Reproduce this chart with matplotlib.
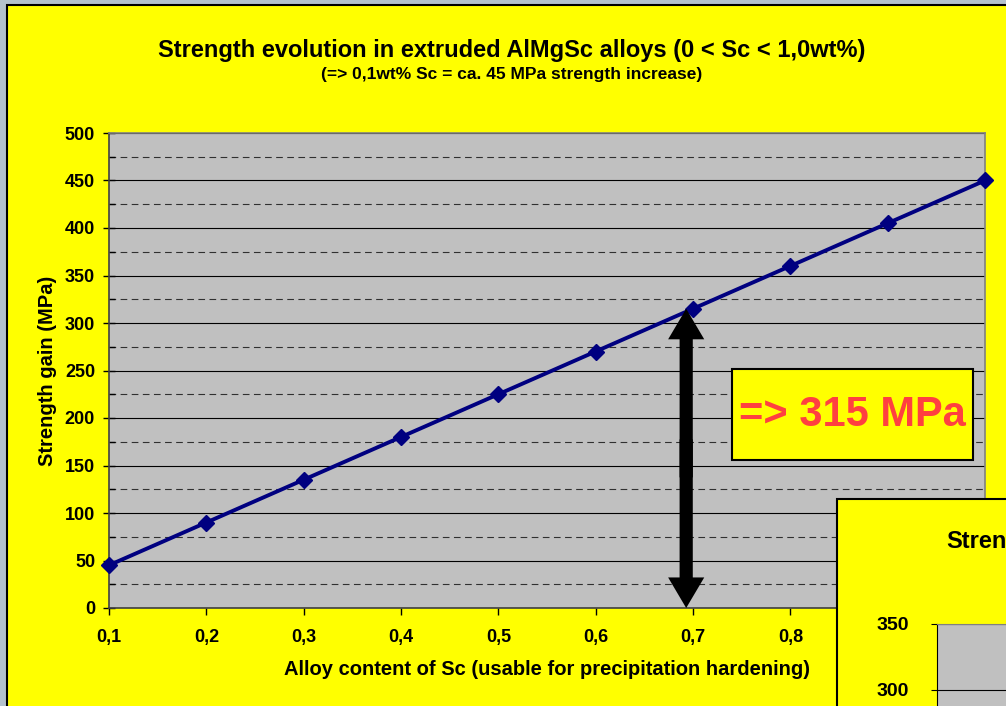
import matplotlib
matplotlib.use("Agg")
import matplotlib.pyplot as plt
from matplotlib.patches import Rectangle, FancyArrowPatch
from matplotlib.ticker import MultipleLocator

plt.rcParams['font.family'] = ['Liberation Sans', 'DejaVu Sans']
plt.rcParams['font.weight'] = 'bold'

# ---- data ----
sc_content = [0.1, 0.2, 0.3, 0.4, 0.5, 0.6, 0.7, 0.8, 0.9, 1.0]
strength_gain = [45, 90, 135, 180, 225, 270, 315, 360, 405, 450]
x_tick_labels = ['0,1', '0,2', '0,3', '0,4', '0,5', '0,6', '0,7', '0,8', '0,9', '1,0']
hidden_labels = ['0,9', '1,0']  # covered by the overlapping second chart
arrow_x = 0.693
arrow_value = 315
box_label = '=> 315 MPa'
title = 'Strength evolution in extruded AlMgSc alloys (0 < Sc < 1,0wt%)'
subtitle = '(=> 0,1wt% Sc = ca. 45 MPa strength increase)'
xlabel = 'Alloy content of Sc (usable for precipitation hardening)'
ylabel = 'Strength gain (MPa)'
second_title = 'Stren'
second_ticks = [300, 350]

W, H = 1006, 706
fig = plt.figure(figsize=(W / 100, H / 100), dpi=100)
fig.patch.set_facecolor('#b4c2cc')

def fx(px):
    return px / W

def fy(py):
    return 1 - py / H

YELLOW = '#ffff00'
GREY = '#c0c0c0'

# main chart background
bg = Rectangle((fx(7), fy(720)), fx(1030 - 7), (720 - 5) / H, transform=fig.transFigure,
               facecolor=YELLOW, edgecolor='black', lw=1.5, zorder=-5)
fig.patches.append(bg)

# main axes
L, R, T, B = 109, 985, 133, 608
ax = fig.add_axes([fx(L), fy(B), (R - L) / W, (B - T) / H])
ax.set_facecolor(GREY)
ax.set_xlim(0.1, 1.0)
ax.set_ylim(0, 500)
ax.yaxis.set_major_locator(MultipleLocator(50))
ax.yaxis.set_minor_locator(MultipleLocator(25))
ax.set_xticks(sc_content)
ax.set_xticklabels(x_tick_labels)
for s in ['top', 'right']:
    ax.spines[s].set_color('#808080')
    ax.spines[s].set_linewidth(1.2)
ax.spines['left'].set_color('#404040')
ax.spines['bottom'].set_color('#404040')
ax.spines['left'].set_linewidth(1.2)
ax.spines['bottom'].set_linewidth(1.2)
ax.grid(axis='y', which='major', color='black', lw=0.8, ls='-')
ax.grid(axis='y', which='minor', color='#303030', lw=0.8, ls=(0, (6, 4)))
ax.set_axisbelow(True)
ax.tick_params(axis='y', which='major', direction='inout', length=8, width=1,
               labelsize=13, pad=6)
ax.tick_params(axis='y', which='minor', direction='in', length=4, width=1)
ax.tick_params(axis='x', which='major', direction='out', length=5, width=1,
               labelsize=13, pad=10)
for lab in ax.get_xticklabels() + ax.get_yticklabels():
    lab.set_fontweight('bold')
for lab in ax.get_xticklabels():
    if lab.get_text() in hidden_labels:
        lab.set_visible(False)

ax.plot(sc_content, strength_gain, color='#000080', lw=2.8, marker='D',
        markersize=8.5, markerfacecolor='#000080', markeredgecolor='#000080',
        clip_on=False, zorder=5)

ax.set_xlabel(xlabel, fontsize=14.5, fontweight='bold', labelpad=10)
ax.set_ylabel(ylabel, fontsize=14.5, fontweight='bold', labelpad=6)

# double arrow (two overlapping single-headed arrows)
mid = arrow_value / 2
for start, end in ((mid - 20, arrow_value), (mid + 20, 0)):
    arr = FancyArrowPatch((arrow_x, start), (arrow_x, end),
                          arrowstyle='simple,head_length=22,head_width=26,tail_width=9.5',
                          mutation_scale=1, shrinkA=0, shrinkB=0,
                          color='black', lw=0, zorder=6)
    ax.add_patch(arr)

# text box
bx0, by0 = (732 - L) / (R - L), (B - 460) / (B - T)
bw, bh = (973 - 732) / (R - L), (460 - 369) / (B - T)
ax.add_patch(Rectangle((bx0, by0), bw, bh, transform=ax.transAxes,
                       facecolor=YELLOW, edgecolor='black', lw=1.5, zorder=7))
ax.text(bx0 + bw / 2, by0 + bh / 2, box_label, transform=ax.transAxes,
        ha='center', va='center', fontsize=30, fontweight='bold',
        color='#ff4040', zorder=8)

# titles
fig.text(fx(512), fy(50), title, ha='center', va='center', fontsize=17,
         fontweight='bold')
fig.text(fx(512), fy(75), subtitle, ha='center', va='center', fontsize=12.5,
         fontweight='bold')

# second overlapping chart
bg2 = Rectangle((fx(837), fy(760)), fx(1100 - 837), (760 - 499) / H,
                transform=fig.transFigure, facecolor=YELLOW, edgecolor='black',
                lw=1.5, zorder=10)
fig.patches.append(bg2)
ax2 = fig.add_axes([fx(937), fy(760), (1200 - 937) / W, (760 - 624) / H], zorder=11)
ax2.set_facecolor(GREY)
ax2.set_xlim(0, 1)
y_low = 350 - (760 - 624) / 66 * 50
ax2.set_ylim(y_low, 350)
ax2.set_yticks(second_ticks)
ax2.set_xticks([])
ax2.grid(axis='y', color='black', lw=0.8)
ax2.set_axisbelow(True)
for s in ['top', 'right']:
    ax2.spines[s].set_color('#808080')
ax2.tick_params(axis='y', direction='out', length=4.3, labelsize=14, pad=16)
for lab in ax2.get_yticklabels():
    lab.set_fontweight('bold')
fig.text(fx(946), fy(541), second_title, ha='left', va='center', fontsize=17,
         fontweight='bold', zorder=12)

fig.savefig('out.png', dpi=100, facecolor=fig.get_facecolor())
